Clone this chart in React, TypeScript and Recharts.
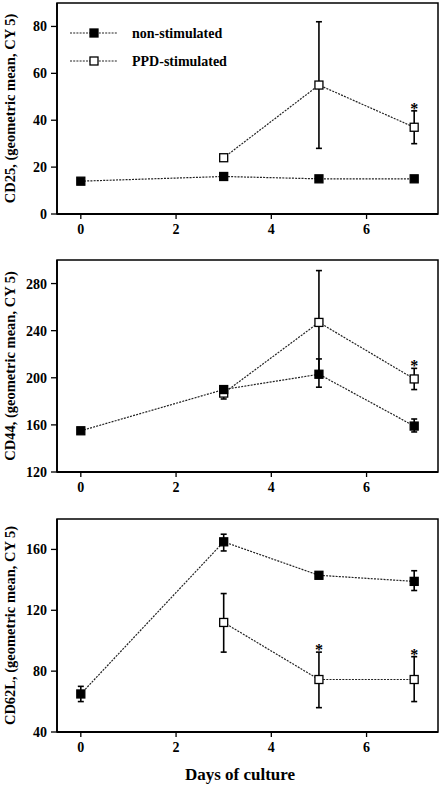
import React from 'react';
import {
  ComposedChart,
  Line,
  XAxis,
  YAxis,
  ErrorBar,
  Scatter,
  ReferenceArea,
  Legend,
} from 'recharts';

// ---- data ----
const days = [0, 3, 5, 7];
const xTicks = [0, 2, 4, 6];
const seriesNames = ['non-stimulated', 'PPD-stimulated'];

const cd25Non = [14, 16, 15, 15];
const cd25NonLow = [null, null, null, null];
const cd25NonHigh = [null, null, null, null];
const cd25Ppd = [null, 24, 55, 37];
const cd25PpdLow = [null, null, 28, 30];
const cd25PpdHigh = [null, null, 82, 44];
const cd25Stars = [false, false, false, true];
const cd25Ticks = [0, 20, 40, 60, 80];

const cd44Non = [155, 190, 203, 159];
const cd44NonLow = [null, null, 192, 154];
const cd44NonHigh = [null, null, 216, 165];
const cd44Ppd = [null, 187, 247, 199];
const cd44PpdLow = [null, 182, 203, 190];
const cd44PpdHigh = [null, 190, 291, 208];
const cd44Stars = [false, false, false, true];
const cd44Ticks = [120, 160, 200, 240, 280];

const cd62Non = [65, 165, 143, 139];
const cd62NonLow = [60, 159, null, 133];
const cd62NonHigh = [70, 170, null, 146];
const cd62Ppd = [null, 112, 74.5, 74.5];
const cd62PpdLow = [null, 92.5, 56, 60];
const cd62PpdHigh = [null, 131, 92.5, 89.5];
const cd62Stars = [false, false, true, true];
const cd62Ticks = [40, 80, 120, 160];

const FONT = '"Liberation Serif", "Times New Roman", serif';

type Num = number | null;

function buildRows(non: Num[], nonLow: Num[], nonHigh: Num[], ppd: Num[], ppdLow: Num[], ppdHigh: Num[]) {
  return days.map((d, i) => ({
    day: d,
    non: non[i],
    ppd: ppd[i],
    nonErr: non[i] != null && nonLow[i] != null && nonHigh[i] != null ? [(non[i] as number) - (nonLow[i] as number), (nonHigh[i] as number) - (non[i] as number)] : null,
    ppdErr: ppd[i] != null && ppdLow[i] != null && ppdHigh[i] != null ? [(ppd[i] as number) - (ppdLow[i] as number), (ppdHigh[i] as number) - (ppd[i] as number)] : null,
  }));
}

function buildStars(stars: boolean[], ppd: Num[], ppdHigh: Num[]) {
  return days
    .map((d, i) => ({ day: d, star: stars[i] ? (ppdHigh[i] ?? ppd[i]) : null }))
    .filter((r) => r.star != null);
}

const squareDot = (fill: string) => (props: any) => {
  const { cx, cy, index } = props;
  if (cx == null || cy == null || isNaN(cx) || isNaN(cy)) return <g key={'e' + index} />;
  return (
    <rect key={'s' + index} x={cx - 4} y={cy - 4} width={8} height={8} fill={fill} stroke="#000" strokeWidth={1.3} />
  );
};

const starShape = (props: any) => {
  const { cx, cy } = props;
  if (cx == null || cy == null) return <g />;
  return (
    <text x={cx} y={cy + 3} textAnchor="middle" fontSize={16} fontWeight="bold" fontFamily={FONT} fill="#000" stroke="none">
      *
    </text>
  );
};

const LegendContent = () => (
  <svg width={260} height={80} style={{ display: 'block' }}>
    {seriesNames.map((name, i) => {
      const y = i === 0 ? 33 : 61;
      return (
        <g key={name}>
          <line x1={70} x2={117} y1={y} y2={y} stroke="#222" strokeWidth={1.2} strokeDasharray="2 1.2" />
          <rect x={90} y={y - 4} width={8} height={8} fill={i === 0 ? '#000' : '#fff'} stroke="#000" strokeWidth={1.3} />
          <text x={132} y={y + 5} fontSize={14} fontWeight="bold" fontFamily={FONT} fill="#000">
            {name}
          </text>
        </g>
      );
    })}
  </svg>
);

type PanelProps = {
  height: number;
  margin: { top: number; right: number; bottom: number; left: number };
  yLabel: string;
  yDomain: [number, number];
  yTicks: number[];
  rows: any[];
  stars: any[];
  showLegend?: boolean;
  xLabel?: string;
};

function Panel({ height, margin, yLabel, yDomain, yTicks, rows, stars, showLegend, xLabel }: PanelProps) {
  const tickStyle = { fontSize: 14, fontWeight: 'bold', fontFamily: FONT, fill: '#000' };
  return (
    <ComposedChart width={440} height={height} data={rows} margin={margin}>
      <XAxis
        type="number"
        dataKey="day"
        domain={[-0.5, 7.5]}
        ticks={xTicks}
        allowDataOverflow
        height={30}
        tickSize={5}
        tickMargin={5}
        tick={tickStyle}
        axisLine={{ stroke: '#000', strokeWidth: 1.8 }}
        tickLine={{ stroke: '#000', strokeWidth: 1.3 }}
        label={
          xLabel
            ? {
                content: () => (
                  <text x={240} y={270} textAnchor="middle" fontSize={17} fontWeight="bold" fontFamily={FONT} fill="#000">
                    {xLabel}
                  </text>
                ),
              }
            : undefined
        }
      />
      <YAxis
        type="number"
        domain={yDomain}
        ticks={yTicks}
        allowDataOverflow
        width={57}
        tickSize={6}
        tickMargin={4}
        tick={tickStyle}
        axisLine={{ stroke: '#000', strokeWidth: 1.8 }}
        tickLine={{ stroke: '#000', strokeWidth: 1.3 }}
        label={{
          content: (p: any) => {
            const vb = p.viewBox;
            const cy = vb.y + vb.height / 2;
            return (
              <text
                x={14.5}
                y={cy}
                transform={`rotate(-90, 14.5, ${cy})`}
                textAnchor="middle"
                fontSize={14.5}
                fontWeight="bold"
                fontFamily={FONT}
                fill="#000"
              >
                {yLabel}
              </text>
            );
          },
        }}
      />
      <ReferenceArea
        x1={-0.5}
        x2={7.5}
        y1={yDomain[0]}
        y2={yDomain[1]}
        fill="none"
        stroke="#000"
        strokeWidth={1.5}
        ifOverflow="visible"
      />
      <Line
        dataKey="ppd"
        stroke="#222"
        strokeWidth={1.2}
        strokeDasharray="2 1.2"
        dot={squareDot('#fff')}
        activeDot={false}
        isAnimationActive={false}
        connectNulls={false}
      >
        <ErrorBar dataKey="ppdErr" direction="y" width={3} stroke="#000" strokeWidth={1.6} />
      </Line>
      <Line
        dataKey="non"
        stroke="#222"
        strokeWidth={1.2}
        strokeDasharray="2 1.2"
        dot={squareDot('#000')}
        activeDot={false}
        isAnimationActive={false}
      >
        <ErrorBar dataKey="nonErr" direction="y" width={3} stroke="#000" strokeWidth={1.6} />
      </Line>
      <Scatter data={stars} dataKey="star" shape={starShape} fill="#000" isAnimationActive={false} />
      {showLegend ? (
        <Legend
          layout="horizontal"
          verticalAlign="middle"
          align="center"
          content={LegendContent}
          wrapperStyle={{ position: 'absolute', left: 0, top: 0, width: 260, height: 80 }}
        />
      ) : null}
    </ComposedChart>
  );
}

export default function App() {
  const rows25 = buildRows(cd25Non, cd25NonLow, cd25NonHigh, cd25Ppd, cd25PpdLow, cd25PpdHigh);
  const rows44 = buildRows(cd44Non, cd44NonLow, cd44NonHigh, cd44Ppd, cd44PpdLow, cd44PpdHigh);
  const rows62 = buildRows(cd62Non, cd62NonLow, cd62NonHigh, cd62Ppd, cd62PpdLow, cd62PpdHigh);
  return (
    <div style={{ position: 'absolute', left: 0, top: 0, width: 440, height: 785, background: '#fff' }}>
      <div style={{ position: 'absolute', left: 0, top: 0 }}>
        <Panel
          height={250}
          margin={{ top: 3, right: 2, bottom: 6, left: 0 }}
          yLabel="CD25, (geometric mean, CY 5)"
          yDomain={[0, 90]}
          yTicks={cd25Ticks}
          rows={rows25}
          stars={buildStars(cd25Stars, cd25Ppd, cd25PpdHigh)}
          showLegend
        />
      </div>
      <div style={{ position: 'absolute', left: 0, top: 250 }}>
        <Panel
          height={260}
          margin={{ top: 10, right: 2, bottom: 8, left: 0 }}
          yLabel="CD44, (geometric mean, CY 5)"
          yDomain={[120, 300]}
          yTicks={cd44Ticks}
          rows={rows44}
          stars={buildStars(cd44Stars, cd44Ppd, cd44PpdHigh)}
        />
      </div>
      <div style={{ position: 'absolute', left: 0, top: 510 }}>
        <Panel
          height={275}
          margin={{ top: 9, right: 2, bottom: 23, left: 0 }}
          yLabel="CD62L, (geometric mean, CY 5)"
          yDomain={[40, 180]}
          yTicks={cd62Ticks}
          rows={rows62}
          stars={buildStars(cd62Stars, cd62Ppd, cd62PpdHigh)}
          xLabel="Days of culture"
        />
      </div>
    </div>
  );
}
